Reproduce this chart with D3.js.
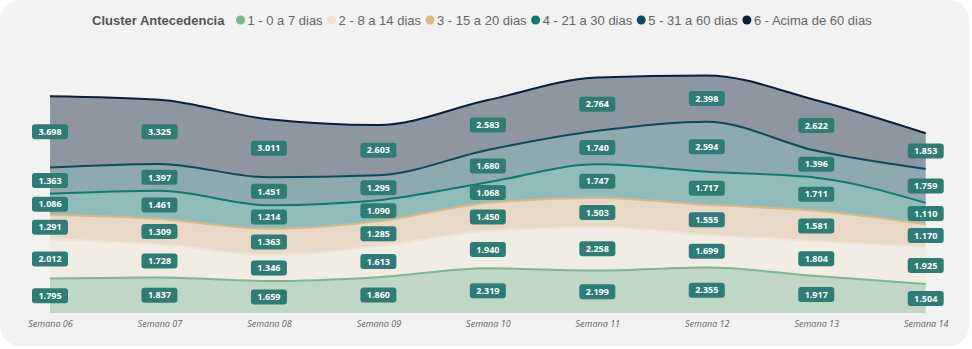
<!DOCTYPE html>
<html lang="pt">
<head>
<meta charset="UTF-8">
<title>Cluster Antecedencia</title>
<script src="https://d3js.org/d3.v7.min.js"></script>
<style>
    body { margin: 0; background: #ffffff; }
    svg { display: block; }
    .legend text { font-family: "Liberation Sans", Arial, sans-serif; font-size: 13px; fill: #666; }
    .legend .title { font-weight: bold; fill: #555; }
    .x-axis text { font-family: "Open Sans", sans-serif; font-style: italic; font-size: 9px; fill: #666; }
    .value-label text { font-family: "Open Sans", sans-serif; font-weight: bold; font-size: 9px; fill: #fff; }
</style>
</head>
<body>
<svg id="chart" width="972" height="349"></svg>
<script>
    const width = 972, height = 349;

    // Weeks and clusters
    const weeks = ["Semana 06", "Semana 07", "Semana 08", "Semana 09", "Semana 10",
                   "Semana 11", "Semana 12", "Semana 13", "Semana 14"];
    const clusters = ["1 - 0 a 7 dias", "2 - 8 a 14 dias", "3 - 15 a 20 dias",
                      "4 - 21 a 30 dias", "5 - 31 a 60 dias", "6 - Acima de 60 dias"];
    const colors = ["#7fb58f", "#efe3d2", "#d9b98a", "#137870", "#0f4a5c", "#0b1f3a"];

    // Quantity per cluster, one value per week
    const c1 = [1795, 1837, 1659, 1860, 2319, 2199, 2355, 1917, 1504];
    const c2 = [2012, 1728, 1346, 1613, 1940, 2258, 1699, 1804, 1925];
    const c3 = [1291, 1309, 1363, 1285, 1450, 1503, 1555, 1581, 1170];
    const c4 = [1086, 1461, 1214, 1090, 1068, 1747, 1717, 1711, 1110];
    const c5 = [1363, 1397, 1451, 1295, 1680, 1740, 2594, 1396, 1759];
    const c6 = [3698, 3325, 3011, 2603, 2583, 2764, 2398, 2622, 1853];
    const series = [c1, c2, c3, c4, c5, c6];

    const rows = weeks.map((w, i) => {
        const r = { week: w };
        clusters.forEach((c, j) => r[c] = series[j][i]);
        return r;
    });

    const fmt = d3.formatLocale({ decimal: ",", thousands: ".", grouping: [3], currency: ["R$", ""] }).format(",d");

    const svg = d3.select("#chart");

    // card background
    svg.append("rect")
        .attr("x", 0).attr("y", 0)
        .attr("width", 969).attr("height", 346)
        .attr("rx", 20)
        .attr("fill", "#f2f2f2");

    const x = d3.scalePoint().domain(weeks).range([50, 925.7]);
    const y = d3.scaleLinear().domain([0, 14000]).range([313, 43]);

    const stacked = d3.stack().keys(clusters)(rows);

    const area = d3.area()
        .x(d => x(d.data.week))
        .y0(d => y(d[0]))
        .y1(d => y(d[1]))
        .curve(d3.curveMonotoneX);

    const topLine = d3.line()
        .x(d => x(d.data.week))
        .y(d => y(d[1]))
        .curve(d3.curveMonotoneX);

    svg.append("g").selectAll("path")
        .data(stacked)
        .join("path")
        .attr("d", area)
        .attr("fill", (d, i) => colors[i])
        .attr("fill-opacity", 0.44);

    svg.append("g").selectAll("path")
        .data(stacked)
        .join("path")
        .attr("d", topLine)
        .attr("fill", "none")
        .attr("stroke", (d, i) => colors[i])
        .attr("stroke-width", 2);

    // data labels centred in each band
    const labels = svg.append("g").attr("class", "value-label");
    stacked.forEach(layer => {
        const g = labels.selectAll(null)
            .data(layer)
            .join("g")
            .attr("transform", d => `translate(${x(d.data.week)},${(y(d[0]) + y(d[1])) / 2})`);
        g.append("rect")
            .attr("x", -18).attr("y", -7.5)
            .attr("width", 36).attr("height", 15)
            .attr("rx", 3)
            .attr("fill", "#2f7b75");
        g.append("text")
            .attr("text-anchor", "middle")
            .attr("dy", "0.35em")
            .text(d => fmt(d[1] - d[0]));
    });

    // x axis
    svg.append("g")
        .attr("class", "x-axis")
        .attr("transform", "translate(0,313)")
        .call(d3.axisBottom(x).tickSize(0).tickPadding(8))
        .call(g => g.select(".domain").remove())
        .selectAll("text")
        .attr("font-family", null)
        .attr("font-size", null);

    // legend
    const legend = svg.append("g").attr("class", "legend").attr("transform", "translate(0,20)");
    const title = legend.append("text")
        .attr("class", "title")
        .attr("x", 92).attr("dy", "0.35em")
        .text("Cluster Antecedencia");
    let lx = 92 + title.node().getComputedTextLength() + 12;
    clusters.forEach((c, i) => {
        legend.append("circle")
            .attr("cx", lx + 4).attr("cy", 0).attr("r", 4.5)
            .attr("fill", colors[i]);
        const t = legend.append("text")
            .attr("x", lx + 11).attr("dy", "0.35em")
            .text(c);
        lx = lx + 11 + t.node().getComputedTextLength() + 5;
    });
</script>
</body>
</html>
